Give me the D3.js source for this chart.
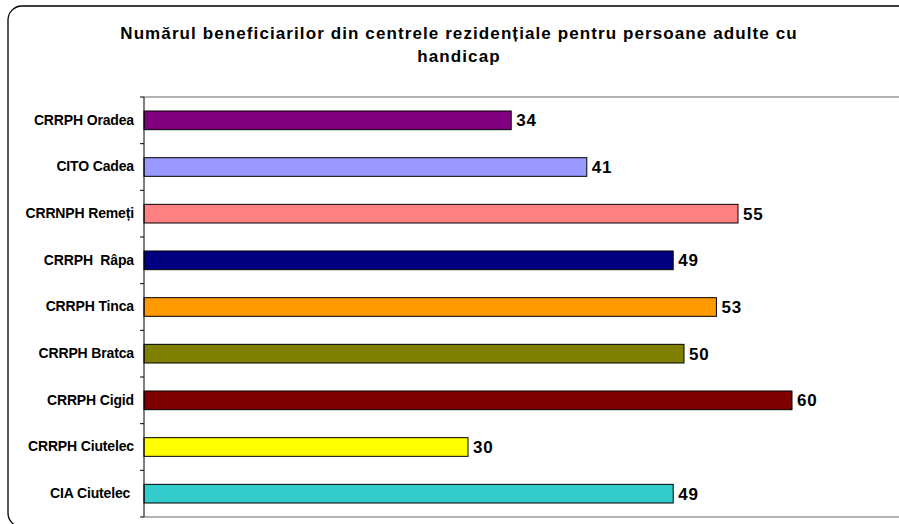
<!DOCTYPE html>
<html>
<head>
<meta charset="utf-8">
<script src="https://cdn.jsdelivr.net/npm/d3@7"></script>
<style>
  html, body { margin: 0; background: #fff; overflow: hidden; }
  svg { display: block; font-family: Arial, "Liberation Sans", sans-serif; overflow: hidden; }
  .lbl { white-space: pre; }
</style>
</head>
<body>
<div id="chart"></div>
<script>
var centres = ["CRRPH Oradea", "CITO Cadea", "CRRNPH Remeți", "CRRPH  Râpa", "CRRPH Tinca",
               "CRRPH Bratca", "CRRPH Cigid", "CRRPH Ciutelec", "CIA Ciutelec "];
var beneficiari = [34, 41, 55, 49, 53, 50, 60, 30, 49];
var culori = ["#800080", "#9999FF", "#FF8080", "#000080", "#FF9900",
              "#808000", "#800000", "#FFFF00", "#33CCCC"];
var titlu = ["Numărul beneficiarilor din centrele rezidențiale pentru persoane adulte cu", "handicap"];

var data = centres.map(function(c, i) { return {name: c, val: beneficiari[i], color: culori[i]}; });

var W = 899, H = 524;
var margin = {top: 97, right: 0, bottom: 7, left: 144};

var svg = d3.select("#chart").append("svg")
    .attr("width", W)
    .attr("height", H);

// outer frame: rounded left side, top and bottom edges run off the page
var r = 14;
var frame = d3.path();
frame.moveTo(W + 20, 6);
frame.lineTo(8 + r, 6);
frame.arcTo(8, 6, 8, 6 + r, r);
frame.lineTo(8, 527 - r);
frame.arcTo(8, 527, 8 + r, 527, r);
frame.lineTo(W + 20, 527);
svg.append("path")
    .attr("d", frame.toString())
    .attr("fill", "none")
    .attr("stroke", "#000")
    .attr("stroke-width", 1.3);

// title
svg.append("text")
    .attr("text-anchor", "middle")
    .attr("font-size", 17)
    .attr("font-weight", "bold")
    .attr("letter-spacing", 1.1)
    .selectAll("tspan")
    .data(titlu)
    .enter().append("tspan")
    .attr("x", 459)
    .attr("y", function(d, i) { return 39 + i * 23; })
    .text(function(d) { return d; });

var x = d3.scaleLinear()
    .domain([0, 70])
    .range([margin.left, margin.left + 756]);

var y = d3.scaleBand()
    .domain(centres)
    .range([margin.top, H - margin.bottom])
    .paddingInner(0.6)
    .paddingOuter(0.3);

// plot area top / bottom lines
svg.append("g").selectAll("line")
    .data([margin.top, H - margin.bottom])
    .enter().append("line")
    .attr("x1", margin.left).attr("x2", W)
    .attr("y1", function(d) { return d; })
    .attr("y2", function(d) { return d; })
    .attr("stroke", "#999")
    .attr("stroke-width", 1.5);

// bars
svg.append("g").selectAll("rect")
    .data(data)
    .enter().append("rect")
    .attr("x", x(0))
    .attr("y", function(d) { return y(d.name); })
    .attr("width", function(d) { return x(d.val) - x(0); })
    .attr("height", y.bandwidth())
    .attr("fill", function(d) { return d.color; })
    .attr("stroke", "#000")
    .attr("stroke-width", 1);

// value labels
svg.append("g").selectAll("text")
    .data(data)
    .enter().append("text")
    .attr("x", function(d) { return x(d.val) + 5; })
    .attr("y", function(d) { return y(d.name) + y.bandwidth() / 2; })
    .attr("dy", "0.36em")
    .attr("font-size", 17)
    .attr("font-weight", "bold")
    .attr("letter-spacing", 0.8)
    .text(function(d) { return d.val; });

// category axis
var yAxis = svg.append("g")
    .attr("transform", "translate(" + margin.left + ",0)")
    .call(d3.axisLeft(y).tickSize(0).tickPadding(10));
yAxis.select(".domain").remove();
yAxis.selectAll("text")
    .attr("class", "lbl")
    .attr("font-size", 14)
    .attr("font-weight", "bold")
    .attr("letter-spacing", -0.15)
    .attr("font-family", "Arial, 'Liberation Sans', sans-serif")
    .attr("fill", "#000");

// axis line + boundary ticks
var step = y.step();
var bounds = centres.map(function(c) { return y(c) - step * 0.3; });
bounds.push(H - margin.bottom);
svg.append("line")
    .attr("x1", margin.left).attr("x2", margin.left)
    .attr("y1", margin.top).attr("y2", H - margin.bottom)
    .attr("stroke", "#000");
svg.append("g").selectAll("line")
    .data(bounds)
    .enter().append("line")
    .attr("x1", margin.left - 4).attr("x2", margin.left)
    .attr("y1", function(d) { return d; })
    .attr("y2", function(d) { return d; })
    .attr("stroke", "#000");
</script>
</body>
</html>
